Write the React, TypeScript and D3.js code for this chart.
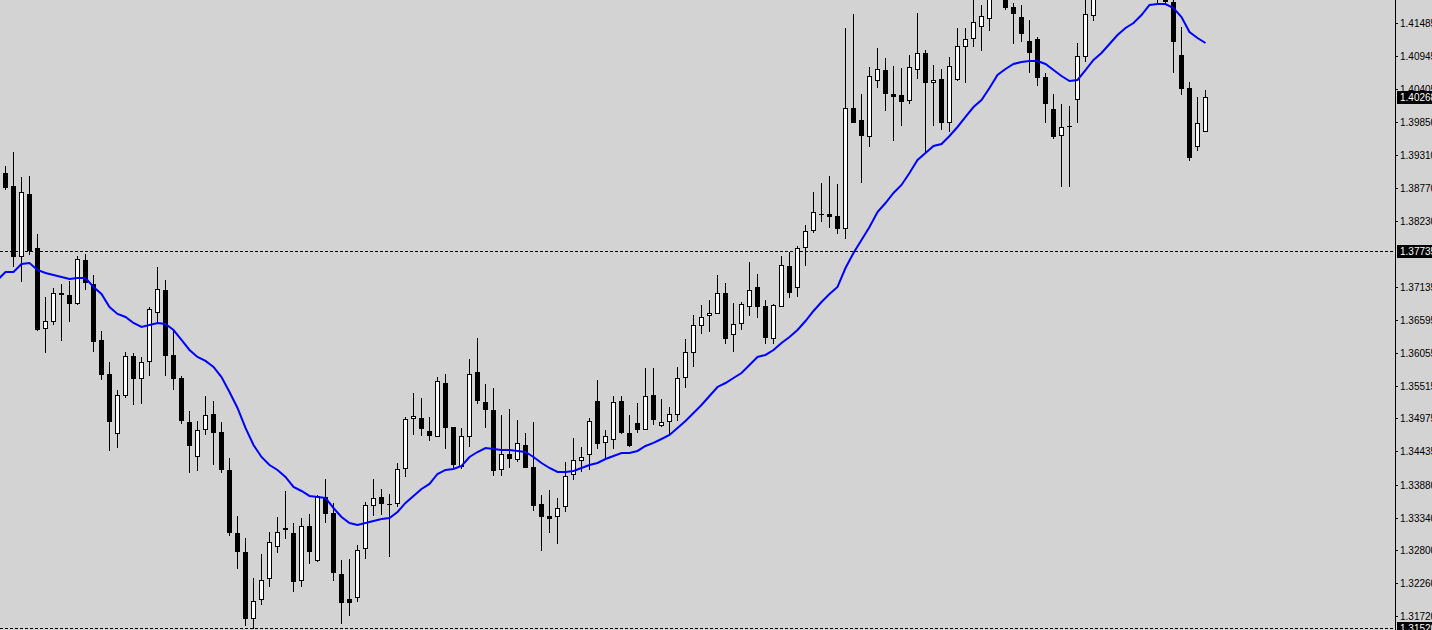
import React from 'react';
import * as d3 from 'd3';

const W = 1432;
const H = 630;
const PLOT_RIGHT = 1395;

const openP = [
  1.39015, 1.38801, 1.37632, 1.38670, 1.37780, 1.36447, 1.36562, 1.37040, 1.37007, 1.36858,
  1.37583, 1.37188, 1.36266, 1.35706, 1.34718, 1.35343, 1.36002, 1.35623, 1.35903, 1.36710,
  1.37089, 1.36019, 1.35640, 1.34915, 1.34339, 1.34784, 1.35047, 1.34751, 1.34125, 1.33088,
  1.32775, 1.31672, 1.31984, 1.32330, 1.32857, 1.33170, 1.33088, 1.32297, 1.33203, 1.32627,
  1.33680, 1.33417, 1.32413, 1.32001, 1.32017, 1.32824, 1.33532, 1.33680, 1.33565, 1.33565,
  1.34141, 1.34965, 1.34981, 1.34767, 1.34668, 1.35557, 1.34833, 1.34174, 1.34668, 1.35739,
  1.35245, 1.35113, 1.34125, 1.34388, 1.34290, 1.34537, 1.34174, 1.33565, 1.33368, 1.33351,
  1.33516, 1.34043, 1.34273, 1.34372, 1.35261, 1.34570, 1.34619, 1.35261, 1.34734, 1.34899,
  1.34784, 1.35360, 1.34850, 1.34915, 1.35031, 1.35640, 1.36052, 1.36496, 1.36661, 1.36694,
  1.37040, 1.36348, 1.36529, 1.36809, 1.37138, 1.36825, 1.36282, 1.36809, 1.37484, 1.37122,
  1.37780, 1.38060, 1.38340, 1.38340, 1.38307, 1.38093, 1.40086, 1.39888, 1.39608, 1.40530,
  1.40711, 1.40316, 1.40300, 1.40201, 1.40711, 1.40991, 1.40497, 1.40563, 1.39839, 1.40547,
  1.41090, 1.41222, 1.41419, 1.41551, 1.42000, 1.42100, 1.41749, 1.41584, 1.41189, 1.41222,
  1.40596, 1.40069, 1.39625, 1.39773, 1.40217, 1.40925, 1.41601, 1.41963, 1.42250, 1.42450,
  1.42300, 1.42550, 1.42400, 1.42150, 1.42050, 1.41950, 1.41831, 1.40958, 1.40415, 1.39444,
  1.39691,
];

const highP = [
  1.39131, 1.39361, 1.38950, 1.38966, 1.38011, 1.36974, 1.37122, 1.37188, 1.37237, 1.37649,
  1.37682, 1.37336, 1.36414, 1.35903, 1.35442, 1.36068, 1.36052, 1.35986, 1.36809, 1.37468,
  1.37254, 1.36430, 1.35673, 1.35097, 1.34932, 1.35343, 1.35261, 1.34915, 1.34323, 1.33368,
  1.33005, 1.32347, 1.32742, 1.33104, 1.33351, 1.33779, 1.33252, 1.33335, 1.33401, 1.33713,
  1.33977, 1.33582, 1.32643, 1.32660, 1.32890, 1.33598, 1.33977, 1.33812, 1.33730, 1.34240,
  1.34998, 1.35393, 1.35311, 1.34998, 1.35656, 1.35706, 1.34833, 1.34817, 1.35953, 1.36298,
  1.35541, 1.35475, 1.35031, 1.35129, 1.34948, 1.34734, 1.34915, 1.33713, 1.33796, 1.33664,
  1.34257, 1.34652, 1.34504, 1.34981, 1.35607, 1.34784, 1.35343, 1.35343, 1.35031, 1.35228,
  1.35805, 1.35805, 1.35294, 1.35162, 1.35821, 1.36282, 1.36677, 1.36842, 1.36924, 1.37336,
  1.37204, 1.36875, 1.36891, 1.37550, 1.37352, 1.36924, 1.36858, 1.37649, 1.37715, 1.37813,
  1.38159, 1.38703, 1.38851, 1.38966, 1.38834, 1.41403, 1.41633, 1.40316, 1.40761, 1.41074,
  1.40909, 1.40777, 1.40744, 1.40958, 1.41650, 1.41041, 1.40794, 1.40728, 1.40925, 1.41403,
  1.41403, 1.41913, 1.41782, 1.42095, 1.42250, 1.42200, 1.41815, 1.41782, 1.41535, 1.41255,
  1.40662, 1.40316, 1.40152, 1.40119, 1.41156, 1.41897, 1.42029, 1.42350, 1.42600, 1.42750,
  1.42650, 1.42800, 1.42600, 1.42400, 1.42250, 1.42100, 1.41897, 1.41419, 1.40514, 1.40267,
  1.40382,
];

const lowP = [
  1.38736, 1.37468, 1.37221, 1.37665, 1.36414, 1.36052, 1.36513, 1.36249, 1.36562, 1.36842,
  1.37089, 1.36068, 1.35607, 1.34438, 1.34487, 1.35311, 1.35195, 1.35212, 1.35673, 1.36546,
  1.35673, 1.35442, 1.34882, 1.34076, 1.34108, 1.34701, 1.34207, 1.34076, 1.33038, 1.32495,
  1.31556, 1.31507, 1.31902, 1.32199, 1.32758, 1.32989, 1.32116, 1.32199, 1.32577, 1.32610,
  1.33252, 1.32297, 1.31589, 1.31721, 1.31952, 1.32660, 1.33368, 1.33384, 1.32692, 1.33516,
  1.34010, 1.34701, 1.34685, 1.34603, 1.34668, 1.34471, 1.34141, 1.34141, 1.34504, 1.35212,
  1.34817, 1.34026, 1.34026, 1.34158, 1.34257, 1.34158, 1.33450, 1.32791, 1.33088, 1.32907,
  1.33433, 1.33960, 1.34092, 1.34125, 1.34471, 1.34323, 1.34471, 1.34718, 1.34504, 1.34734,
  1.34784, 1.34866, 1.34833, 1.34718, 1.34932, 1.35475, 1.35821, 1.36364, 1.36397, 1.36694,
  1.36200, 1.36068, 1.36430, 1.36661, 1.36628, 1.36200, 1.36200, 1.36809, 1.36957, 1.36974,
  1.37484, 1.38027, 1.38209, 1.38110, 1.38011, 1.37929, 1.39839, 1.38851, 1.39444, 1.40415,
  1.40036, 1.39542, 1.39789, 1.40152, 1.40563, 1.39361, 1.39789, 1.39723, 1.39691, 1.40530,
  1.40497, 1.41090, 1.41024, 1.41354, 1.41920, 1.41699, 1.41140, 1.41172, 1.40662, 1.40448,
  1.39839, 1.39575, 1.38785, 1.38785, 1.39839, 1.40843, 1.41518, 1.41900, 1.42100, 1.42200,
  1.42150, 1.42300, 1.42050, 1.41950, 1.41815, 1.41820, 1.40662, 1.40300, 1.39213, 1.39378,
  1.39691,
];

const closeP = [
  1.38768, 1.37632, 1.38703, 1.37731, 1.36430, 1.36578, 1.37040, 1.37007, 1.36858, 1.37599,
  1.37204, 1.36233, 1.35689, 1.34915, 1.35360, 1.36002, 1.35623, 1.35903, 1.36776, 1.37105,
  1.36002, 1.35623, 1.34932, 1.34520, 1.34784, 1.35031, 1.34734, 1.34125, 1.33088, 1.32775,
  1.31672, 1.31968, 1.32314, 1.32939, 1.33104, 1.33137, 1.32281, 1.33203, 1.32775, 1.33697,
  1.33401, 1.32429, 1.31935, 1.31935, 1.32808, 1.33549, 1.33664, 1.33565, 1.33549, 1.34141,
  1.34965, 1.35014, 1.34800, 1.34685, 1.35591, 1.34817, 1.34207, 1.34685, 1.35706, 1.35261,
  1.35113, 1.34108, 1.34388, 1.34306, 1.34570, 1.34158, 1.33532, 1.33351, 1.33318, 1.33499,
  1.34026, 1.34290, 1.34339, 1.34932, 1.34553, 1.34685, 1.35245, 1.34734, 1.34520, 1.34784,
  1.35343, 1.34948, 1.34915, 1.35047, 1.35640, 1.36068, 1.36513, 1.36644, 1.36710, 1.37040,
  1.36282, 1.36529, 1.36858, 1.37089, 1.36809, 1.36298, 1.36842, 1.37501, 1.37040, 1.37780,
  1.38060, 1.38373, 1.38324, 1.38291, 1.38093, 1.40086, 1.39839, 1.39625, 1.40613, 1.40728,
  1.40316, 1.40267, 1.40185, 1.40761, 1.40991, 1.40497, 1.40547, 1.39839, 1.40777, 1.41107,
  1.41222, 1.41502, 1.41601, 1.41996, 1.42150, 1.41732, 1.41633, 1.41304, 1.40991, 1.40580,
  1.40152, 1.39608, 1.39773, 1.39789, 1.40942, 1.41633, 1.41963, 1.42250, 1.42450, 1.42300,
  1.42550, 1.42400, 1.42150, 1.42050, 1.41950, 1.41836, 1.41172, 1.40399, 1.39262, 1.39839,
  1.40267,
];

// moving average, starting one bar before the first visible candle
const maValues = [
  1.37254,
  1.37385, 1.37385, 1.37517, 1.37533, 1.37418, 1.37369, 1.37336, 1.37303, 1.37270, 1.37286,
  1.37286, 1.37138, 1.37023, 1.36809, 1.36694, 1.36644, 1.36546, 1.36480, 1.36513, 1.36546,
  1.36529, 1.36430, 1.36266, 1.36101, 1.35986, 1.35920, 1.35821, 1.35656, 1.35409, 1.35146,
  1.34817, 1.34537, 1.34339, 1.34207, 1.34125, 1.34010, 1.33845, 1.33779, 1.33697, 1.33680,
  1.33664, 1.33499, 1.33351, 1.33252, 1.33219, 1.33252, 1.33285, 1.33318, 1.33335, 1.33433,
  1.33582, 1.33697, 1.33812, 1.33895, 1.34059, 1.34125, 1.34141, 1.34191, 1.34339, 1.34421,
  1.34487, 1.34471, 1.34454, 1.34454, 1.34438, 1.34421, 1.34339, 1.34240, 1.34158, 1.34092,
  1.34092, 1.34108, 1.34158, 1.34207, 1.34240, 1.34306, 1.34356, 1.34405, 1.34405, 1.34438,
  1.34520, 1.34570, 1.34635, 1.34701, 1.34817, 1.34932, 1.35064, 1.35195, 1.35343, 1.35492,
  1.35557, 1.35640, 1.35722, 1.35854, 1.35986, 1.36019, 1.36101, 1.36216, 1.36315, 1.36430,
  1.36578, 1.36743, 1.36891, 1.37023, 1.37138, 1.37451, 1.37698, 1.37912, 1.38126, 1.38373,
  1.38521, 1.38686, 1.38818, 1.39015, 1.39229, 1.39345, 1.39460, 1.39493, 1.39625, 1.39773,
  1.39938, 1.40102, 1.40217, 1.40415, 1.40629, 1.40728, 1.40810, 1.40843, 1.40860, 1.40860,
  1.40810, 1.40711, 1.40613, 1.40530, 1.40547, 1.40711, 1.40876, 1.40991, 1.41140, 1.41288,
  1.41403, 1.41485, 1.41617, 1.41782, 1.41798, 1.41798, 1.41732, 1.41584, 1.41337, 1.41238,
  1.41156,
];

const tickLabels = [
  '1.41485', '1.40945', '1.40405', '1.39850', '1.39310', '1.38770', '1.38230', '1.37135',
  '1.36595', '1.36055', '1.35515', '1.34975', '1.34435', '1.33880', '1.33340', '1.32800',
  '1.32260', '1.31720',
];

const hLines = ['1.37735', '1.31520'];
const bidLabel = '1.40268';

const FONT = '"Liberation Sans", Arial, sans-serif';
const FS = 10;
const TX = 1400;

export default function App() {
  const n = closeP.length;
  const x = d3.scaleLinear().domain([0, n - 1]).range([5.5, 1205.5]);
  const y = d3.scaleLinear().domain([1.3149, 1.41864]).range([H, 0]);

  const maLine = d3
    .line<number>()
    .x((_, i) => x(i - 1))
    .y((d) => y(d));

  const candles = closeP.map((c, i) => {
    const o = openP[i];
    const hi = highP[i];
    const lo = lowP[i];
    const cx = x(i);
    const top = Math.round(y(Math.max(o, c)));
    const bot = Math.round(y(Math.min(o, c)));
    const h = Math.max(bot - top, 1);
    const wt = Math.round(y(hi));
    const wb = Math.round(y(lo));
    const bull = c >= o;
    const left = cx - 2.5;
    return (
      <g key={i}>
        <rect x={cx - 0.5} y={wt} width={1} height={Math.max(wb - wt, 1)} fill="#000" />
        <rect x={left} y={top} width={5} height={h} fill="#000" />
        {bull && h > 2 && <rect x={left + 1} y={top + 1} width={3} height={h - 2} fill="#fff" />}
      </g>
    );
  });

  const boxLabel = (label: string, key: string) => {
    const yy = Math.round(y(+label));
    return (
      <g key={key}>
        <rect x={1397} y={yy - 6.5} width={40} height={13} fill="#000" />
        <text
          x={TX}
          y={yy}
          dominantBaseline="central"
          fontFamily={FONT}
          fontSize={FS}
          fill="#fff"
        >
          {label}
        </text>
      </g>
    );
  };

  return (
    <svg
      width={W}
      height={H}
      style={{ position: 'absolute', left: 0, top: 0, display: 'block' }}
      shapeRendering="crispEdges"
    >
      <defs>
        <clipPath id="plot">
          <rect x={0} y={0} width={PLOT_RIGHT} height={H} />
        </clipPath>
      </defs>
      <rect x={0} y={0} width={W} height={H} fill="#d3d3d3" />
      <g clipPath="url(#plot)">
        {hLines.map((p) => {
          const yy = Math.round(y(+p)) + 0.5;
          return (
            <line
              key={p}
              x1={0}
              x2={PLOT_RIGHT}
              y1={yy}
              y2={yy}
              stroke="#000"
              strokeWidth={1}
              strokeDasharray="3,2"
            />
          );
        })}
        {candles}
        <path
          d={maLine(maValues) || ''}
          fill="none"
          stroke="#0000ff"
          strokeWidth={2}
          shapeRendering="auto"
        />
      </g>
      <line x1={PLOT_RIGHT + 0.5} x2={PLOT_RIGHT + 0.5} y1={0} y2={H} stroke="#000" />
      {tickLabels.map((t) => {
        const yy = Math.round(y(+t));
        return (
          <g key={t}>
            <line x1={PLOT_RIGHT} x2={PLOT_RIGHT + 3} y1={yy + 0.5} y2={yy + 0.5} stroke="#000" />
            <text
              x={TX}
              y={yy}
              dominantBaseline="central"
              fontFamily={FONT}
              fontSize={FS}
              fill="#000"
            >
              {t}
            </text>
          </g>
        );
      })}
      {boxLabel(bidLabel, 'bid')}
      {hLines.map((p) => boxLabel(p, 'h' + p))}
    </svg>
  );
}
